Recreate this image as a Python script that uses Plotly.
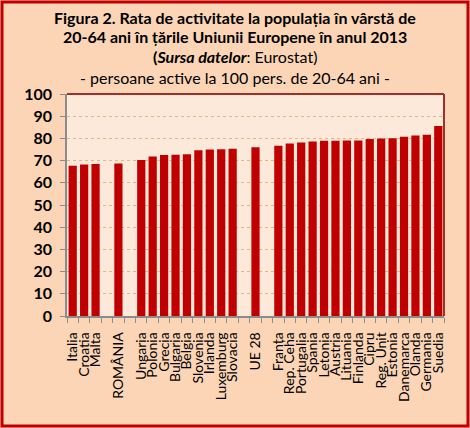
import plotly.graph_objs as go

# categories (blank slots keep the gaps of the original chart)
tari = ['Italia', 'Croatia', 'Malta', ' ', 'ROMÂNIA', '  ',
        'Ungaria', 'Polonia', 'Grecia', 'Bulgaria', 'Belgia', 'Slovenia',
        'Irlanda', 'Luxemburg', 'Slovacia', '   ', 'UE 28', '    ',
        'Franța', 'Rep. Ceha', 'Portugalia', 'Spania', 'Letonia', 'Austria',
        'Lituania', 'Finlanda', 'Cipru', 'Reg. Unit', 'Estonia', 'Danemarca',
        'Olanda', 'Germania', 'Suedia']

# activity rate, persons active per 100 persons aged 20-64
rata = [67.7, 68.2, 68.5, None, 68.7, None,
        70.3, 71.9, 72.5, 72.6, 72.9, 74.7,
        75.0, 75.1, 75.3, None, 76.0, None,
        76.7, 77.7, 78.2, 78.6, 78.9, 78.9,
        79.0, 79.0, 79.7, 80.0, 80.1, 80.7,
        81.3, 81.6, 85.6]

y_ticks = list(range(0, 101, 10))

W, H = 470, 428
L, R, T, B = 67, 26, 94, 112
pw, ph = W - L - R, H - T - B

font = 'Lato'

fig = go.Figure(go.Bar(
    x=tari, y=rata,
    marker=dict(color='#C00000', line=dict(width=0)),
    width=0.72,
))

fig.update_layout(
    width=W, height=H,
    margin=dict(l=L, r=R, t=T, b=B, autoexpand=False),
    paper_bgcolor='#FBD5B5',
    plot_bgcolor='#FDE9DA',
    showlegend=False,
    font=dict(family=font, color='#000000'),
)

fig.update_yaxes(
    range=[0, 100], tickvals=y_ticks,
    tickfont=dict(size=16, weight='bold', family=font),
    showgrid=True, gridcolor='#E8B48A', griddash='dot', gridwidth=1.3,
    showline=True, linecolor='#8C8C8C', linewidth=1.5,
    ticks='outside', ticklen=5, tickcolor='#8C8C8C', ticklabelstandoff=5,
    zeroline=False,
)
fig.update_xaxes(
    type='category', tickangle=-90,
    tickmode='array', tickvals=tari, ticktext=tari,
    tickfont=dict(size=14, family=font),
    showline=True, linecolor='#8C8C8C', linewidth=1.5,
    ticks='outside', ticklen=5, tickcolor='#8C8C8C', tickson='boundaries',
    ticklabelstandoff=9,
    showgrid=False,
)

# title lines
titlu = ['<b>Figura 2. Rata de activitate la populația în vârstă de</b>',
         '<b>20-64 ani în țările Uniunii Europene în anul 2013</b>',
         '<b>(<i>Sursa datelor</i></b>: Eurostat)',
         '- persoane active la 100 pers. de 20-64 ani -']
for i, t in enumerate(titlu):
    fig.add_annotation(
        text=t, xref='paper', yref='paper',
        x=(W / 2 - L) / pw, y=1 + (T - 17 - i * 20) / ph,
        showarrow=False, xanchor='center', yanchor='middle',
        font=dict(size=16, family=font, color='#000000'),
    )

# plot area border (top and right) and outer frame
fig.add_shape(type='line', xref='paper', yref='paper', x0=0, x1=1, y0=1, y1=1,
              line=dict(color='#A0302A', width=2))
fig.add_shape(type='line', xref='paper', yref='paper', x0=1, x1=1, y0=0, y1=1,
              line=dict(color='#A0302A', width=2))
fig.add_shape(type='rect', xref='paper', yref='paper',
              x0=(2 - L) / pw, x1=(W - 2 - L) / pw,
              y0=-(H - 2 - T - ph) / ph, y1=1 + (T - 2) / ph,
              line=dict(color='#C00000', width=3))

fig.write_html('out.html', config={'displayModeBar': False},
               post_script="document.body.style.margin='0';")
